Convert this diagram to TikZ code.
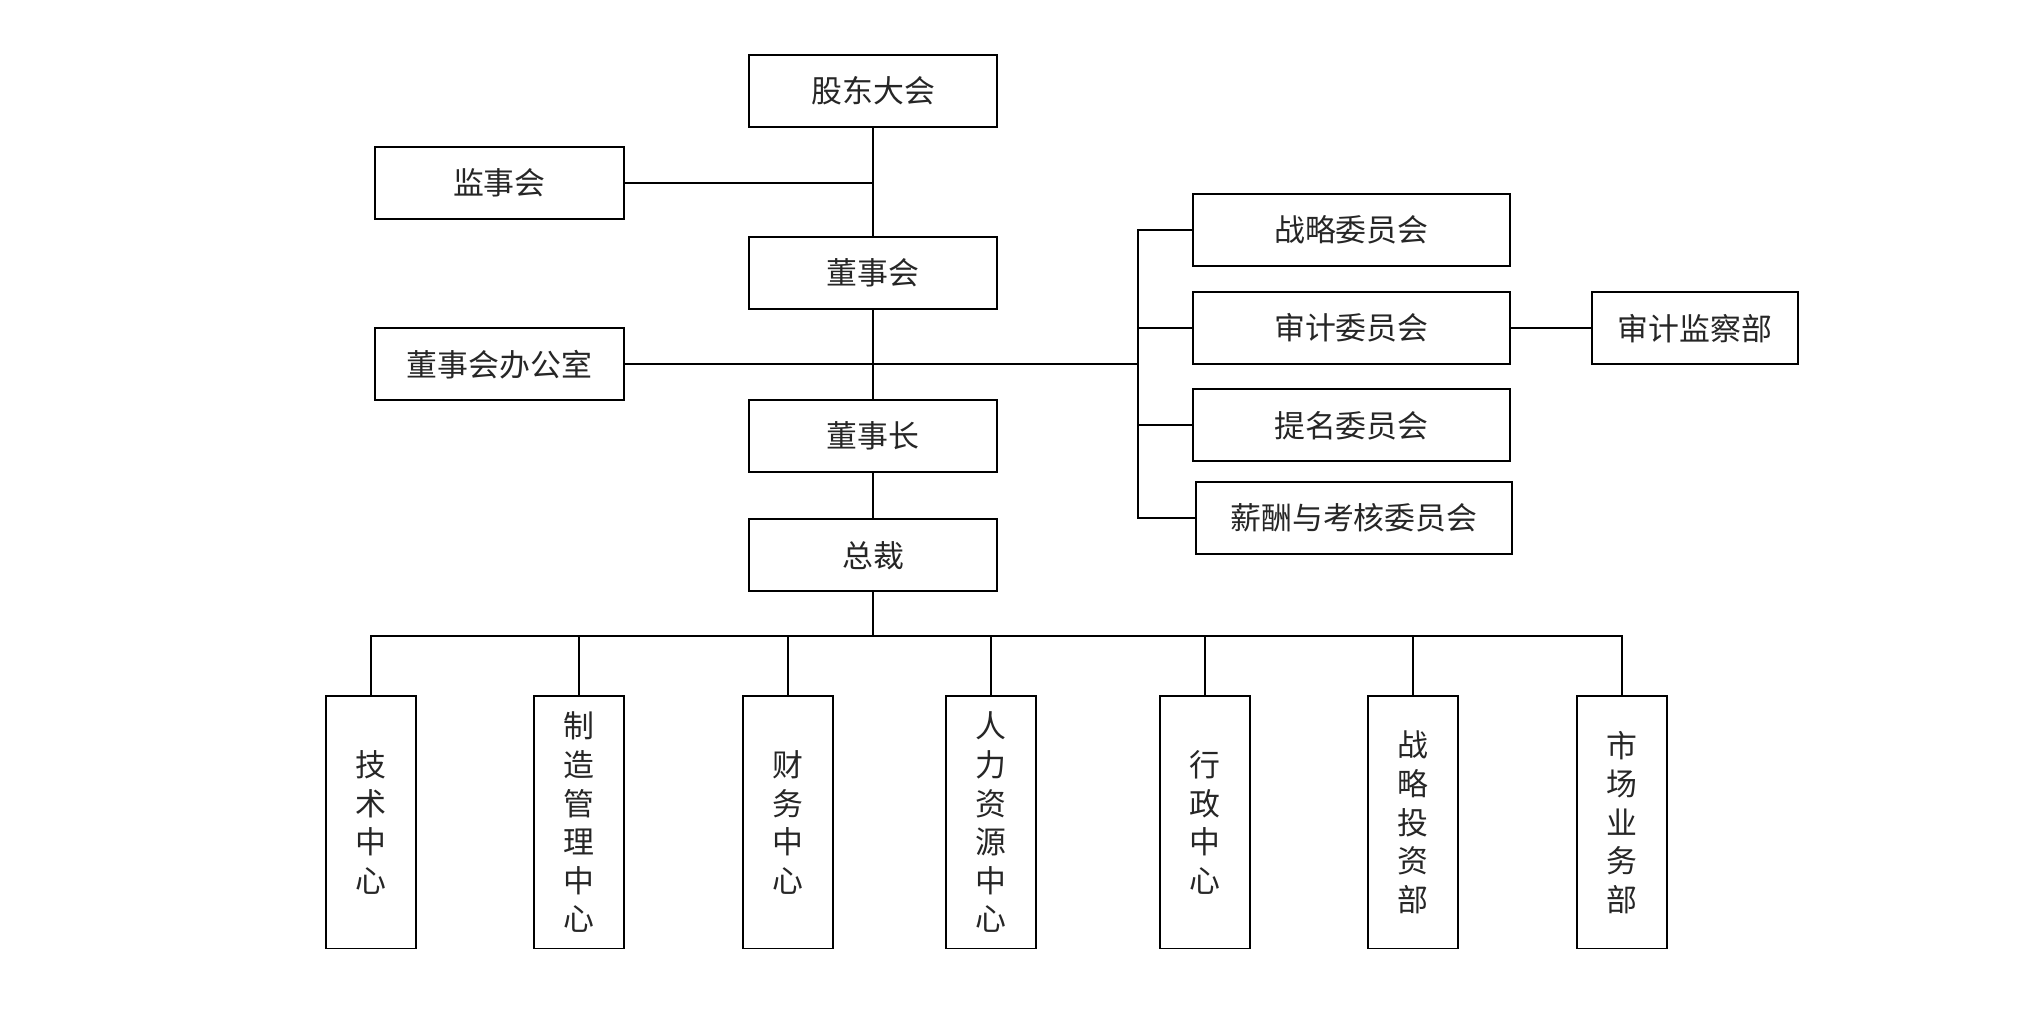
\documentclass[tikz,border=0pt]{standalone}
\usepackage{fontspec}
\newfontfamily\cjk{Noto Sans CJK SC}
\begin{document}
\begin{tikzpicture}[x=1pt,y=-1pt,
  every node/.style={font=\cjk\fontsize{24}{30}\selectfont,text=black!85},
  box/.style={draw=black,line width=1.5pt,minimum width=193pt,minimum height=56pt,inner sep=0pt,align=center},
  cbox/.style={box,minimum width=246pt},
  vbox/.style={draw=black,line width=1.5pt,minimum width=70pt,minimum height=196pt,inner sep=0pt,align=center},
  conn/.style={line width=1.5pt,line cap=rect}]
\fill[white] (0,0) rectangle (1568,794);
\useasboundingbox (0,0) rectangle (1568,794);
% main column
\node[box] (gd) at (678.5,70.5) {股东大会};
\node[box] (jsh) at (388,142) {监事会};
\node[box] (dsh) at (678.5,212) {董事会};
\node[box] (bgs) at (388,283) {董事会办公室};
\node[box] (dsz) at (678.5,339) {董事长};
\node[box] (zc) at (678.5,431.5) {总裁};
% committees
\node[cbox] (zl) at (1050,178.5) {战略委员会};
\node[cbox] (sj) at (1050,255) {审计委员会};
\node[box,minimum width=160pt] (sjb) at (1317,255) {审计监察部};
\node[cbox] (tm) at (1050,330.5) {提名委员会};
\node[cbox] (xc) at (1052,402.5) {薪酬与考核委员会};
% departments
\node[vbox] (b1) at (288,639) {技\\术\\中\\心};
\node[vbox] (b2) at (450,639) {制\\造\\管\\理\\中\\心};
\node[vbox] (b3) at (612,639) {财\\务\\中\\心};
\node[vbox] (b4) at (770,639) {人\\力\\资\\源\\中\\心};
\node[vbox] (b5) at (936,639) {行\\政\\中\\心};
\node[vbox] (b6) at (1098,639) {战\\略\\投\\资\\部};
\node[vbox] (b7) at (1260,639) {市\\场\\业\\务\\部};
\coordinate (bus) at (884,283);
\coordinate (bb) at (678.5,494);
% connectors
\draw[conn] (gd.south) -- (dsh.north);
\draw[conn] (jsh.east) -- (jsh.east -| gd.south);
\draw[conn] (dsh.south) -- (dsz.north);
\draw[conn] (dsz.south) -- (zc.north);
\draw[conn] (bgs.east) -- (bus);
\draw[conn] (zl.west -| bus) -- (xc.west -| bus);
\draw[conn] (zl.west) -- (zl.west -| bus);
\draw[conn] (sj.west) -- (sj.west -| bus);
\draw[conn] (tm.west) -- (tm.west -| bus);
\draw[conn] (xc.west) -- (xc.west -| bus);
\draw[conn] (sj.east) -- (sjb.west);
\draw[conn] (zc.south) -- (bb);
\draw[conn] (b1.north) -- (b1.north |- bb) -- (b7.north |- bb) -- (b7.north);
\foreach \b in {b2,b3,b4,b5,b6} \draw[conn] (\b.north) -- (\b.north |- bb);
\end{tikzpicture}
\end{document}
